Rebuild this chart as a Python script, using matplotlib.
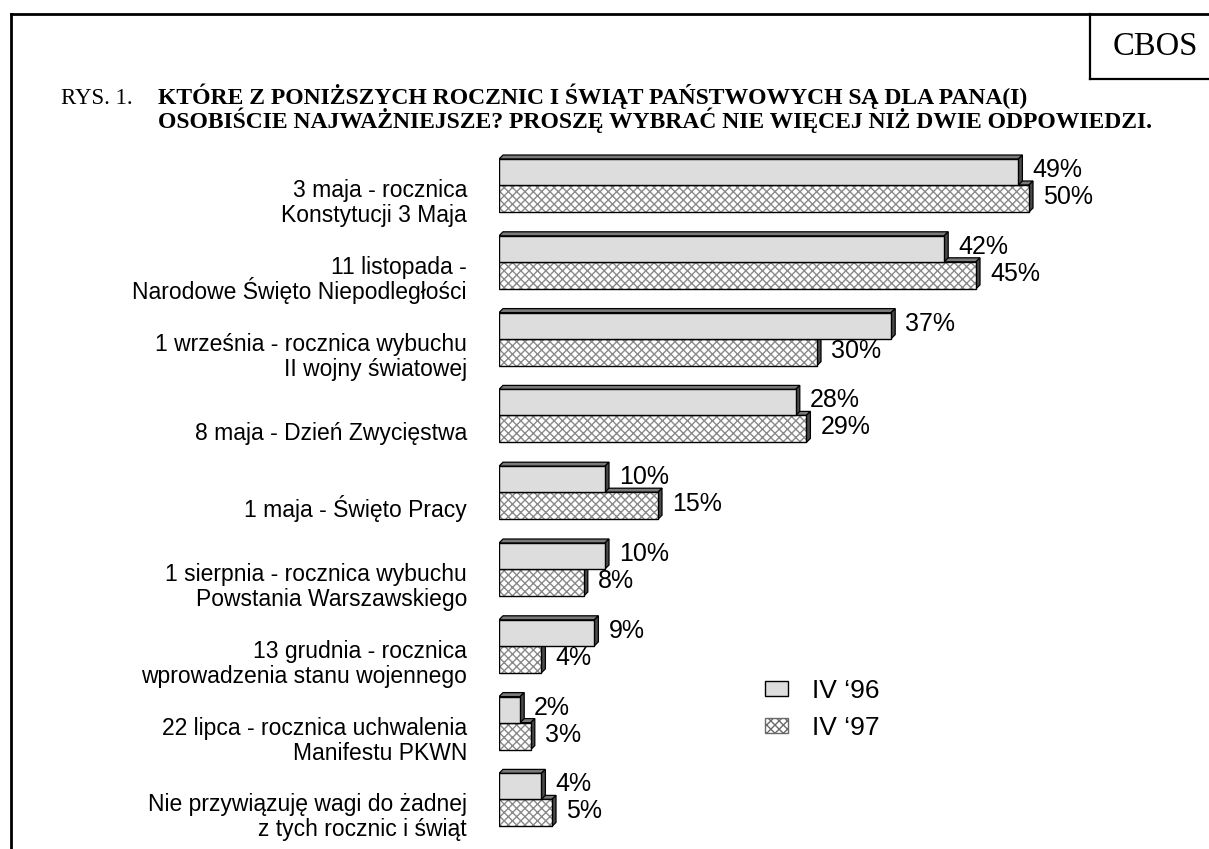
import matplotlib
matplotlib.use("Agg")
import matplotlib.pyplot as plt
from matplotlib.patches import Polygon, Patch
from matplotlib.lines import Line2D

categories = [
    "3 maja - rocznica\nKonstytucji 3 Maja",
    "11 listopada -\nNarodowe Święto Niepodległości",
    "1 września - rocznica wybuchu\nII wojny światowej",
    "8 maja - Dzień Zwycięstwa",
    "1 maja - Święto Pracy",
    "1 sierpnia - rocznica wybuchu\nPowstania Warszawskiego",
    "13 grudnia - rocznica\nwprowadzenia stanu wojennego",
    "22 lipca - rocznica uchwalenia\nManifestu PKWN",
    "Nie przywiązuję wagi do żadnej\nz tych rocznic i świąt",
]
v96 = [49, 42, 37, 28, 10, 10, 9, 2, 4]
v97 = [50, 45, 30, 29, 15, 8, 4, 3, 5]
series_labels = ["IV \u201896", "IV \u201897"]
title_prefix = "RYS. 1."
title_lines = ["KTÓRE Z PONIŻSZYCH ROCZNIC I ŚWIĄT PAŃSTWOWYCH SĄ DLA PANA(I)",
               "OSOBIŚCIE NAJWAŻNIEJSZE? PROSZĘ WYBRAĆ NIE WIĘCEJ NIŻ DWIE ODPOWIEDZI."]

W, H = 1209, 849
fig = plt.figure(figsize=(W / 100, H / 100), dpi=100)
SANS = "Liberation Sans"
SERIF = "Liberation Serif"

# axes geometry in pixels
x0px = 499.0
pxpc = 10.6          # px per percent
y0px = 185.0         # boundary of group 0
gpx = 76.8           # px per group
xmax = 60
ytop, ybot = -0.9, 8.6
ax_left = x0px / W
ax_w = xmax * pxpc / W
top_px = y0px + ytop * gpx
bot_px = y0px + ybot * gpx
ax = fig.add_axes([ax_left, 1 - bot_px / H, ax_w, (bot_px - top_px) / H])
ax.set_xlim(0, xmax)
ax.set_ylim(ybot, ytop)
ax.axis("off")

hg = 26.0 / gpx
hh = 27.0 / gpx
dx = 4.0 / pxpc
dy = 4.0 / gpx

face96 = "#dddddd"
topc = "#7a7a7a"
sidec = "#4a4a4a"
hatchc = "#8a8a8a"

def faces(v, yt, yb, z):
    top = Polygon([(0, yt), (v, yt), (v + dx, yt - dy), (dx, yt - dy)],
                  closed=True, facecolor=topc, edgecolor="black", lw=0.9, zorder=z)
    side = Polygon([(v, yt), (v + dx, yt - dy), (v + dx, yb - dy), (v, yb)],
                   closed=True, facecolor=sidec, edgecolor="black", lw=0.9, zorder=z)
    ax.add_patch(top)
    ax.add_patch(side)

ys = list(range(len(categories)))
for i in ys:
    # hatched (IV '97) bar first
    a = v97[i]
    faces(a, i, i + hh, 1)
    ax.barh(i, a, height=hh, align="edge", color="white", edgecolor=hatchc,
            hatch="xxxx", lw=0, zorder=2)
    ax.barh(i, a, height=hh, align="edge", fill=False, edgecolor="black",
            lw=1.0, zorder=3)
    # grey (IV '96) bar
    b = v96[i]
    faces(b, i - hg, i, 4)
    ax.barh(i - hg, b, height=hg, align="edge", color=face96, edgecolor="black",
            lw=1.0, zorder=5)

    ax.annotate(f"{b}%", xy=(b, i), xytext=(14, 8), textcoords="offset pixels",
                ha="left", va="baseline", fontsize=18, family=SANS, zorder=6)
    ax.annotate(f"{a}%", xy=(a, i), xytext=(14, -19), textcoords="offset pixels",
                ha="left", va="baseline", fontsize=18, family=SANS, zorder=6)

    lines = categories[i].split("\n")
    n = len(lines)
    centre = 24.5
    for k, ln in enumerate(lines):
        off = centre + (k - (n - 1) / 2) * 25
        ax.annotate(ln, xy=(0, i), xytext=(-32, -off), textcoords="offset pixels",
                    ha="right", va="baseline", fontsize=16.5, family=SANS)

# legend
fs_leg = 19
handles = [Patch(facecolor=face96, edgecolor="black", lw=1.0),
           Patch(facecolor="white", edgecolor="#6a6a6a", hatch="xxxx", lw=1.0)]
fig.legend(handles, series_labels, loc="upper left",
           bbox_to_anchor=(765 / W, 1 - 679 / H), frameon=False,
           prop={"family": SANS, "size": fs_leg}, handlelength=0.87, handleheight=0.5,
           handletextpad=0.9, labelspacing=0.5, borderpad=0, borderaxespad=0)

# frame lines
fig.add_artist(Line2D([11 / W, 1], [1 - 14 / H, 1 - 14 / H], color="black", lw=2))
fig.add_artist(Line2D([11 / W, 11 / W], [1 - 14 / H, 0], color="black", lw=2))
fig.add_artist(Line2D([1090 / W, 1090 / W], [1 - 14 / H, 1 - 79 / H], color="black", lw=1.6))
fig.add_artist(Line2D([1090 / W, 1], [1 - 79 / H, 1 - 79 / H], color="black", lw=1.6))
fig.text(1113 / W, 1 - 55 / H, "CBOS", family=SERIF, fontsize=23.5, ha="left", va="baseline")

# title
fig.text(61 / W, 1 - 104 / H, title_prefix, family=SERIF, fontsize=16.5, ha="left", va="baseline")
fig.text(158 / W, 1 - 104 / H, title_lines[0], family=SERIF, fontsize=17, weight="bold",
         ha="left", va="baseline")
fig.text(158 / W, 1 - 128 / H, title_lines[1], family=SERIF, fontsize=17, weight="bold",
         ha="left", va="baseline")

fig.savefig("out.png", dpi=100)
